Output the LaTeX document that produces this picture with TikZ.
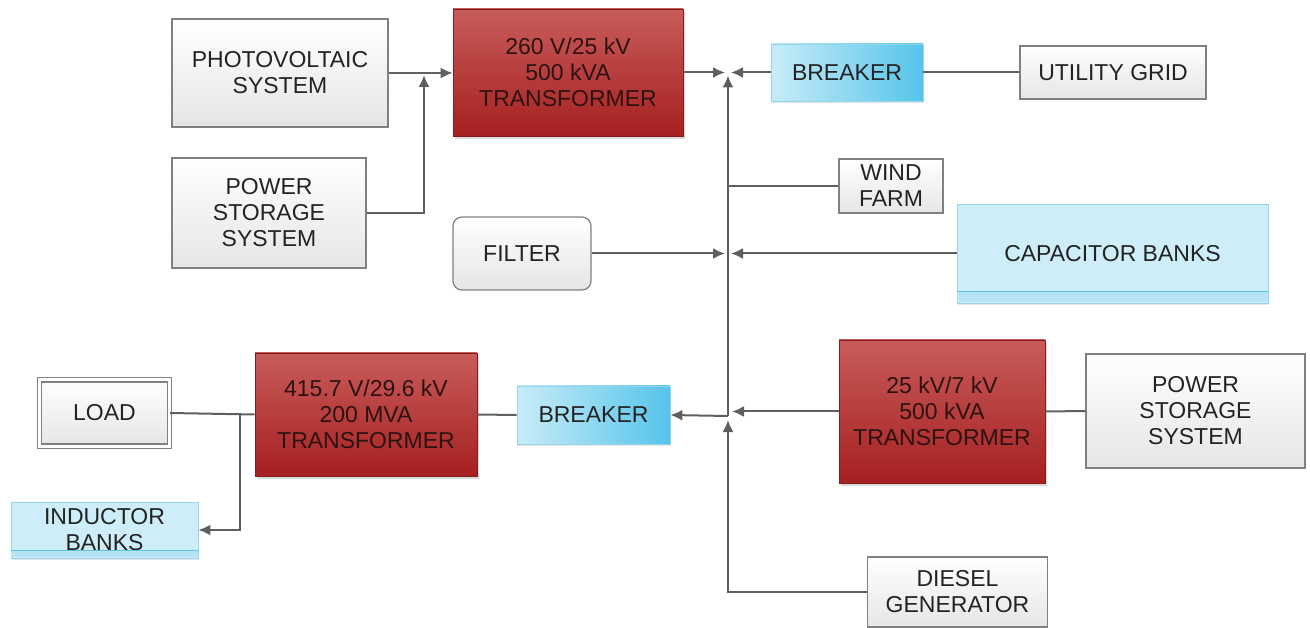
\documentclass[tikz,border=0pt]{standalone}
\usepackage{fontspec}
\setmainfont{Liberation Sans}
\usepackage{tikz}
\usetikzlibrary{shadows, arrows.meta}
\definecolor{boxgray}{RGB}{128,128,128}
\definecolor{linegray}{RGB}{95,95,95}
\definecolor{textgray}{RGB}{35,35,35}
\definecolor{trafotop}{RGB}{200,92,90}
\definecolor{trafobot}{RGB}{165,32,32}
\definecolor{trafoedge}{RGB}{130,30,30}
\definecolor{trafotext}{RGB}{45,18,18}
\definecolor{brkleft}{RGB}{200,236,248}
\definecolor{brkright}{RGB}{85,196,234}
\definecolor{bluelight}{RGB}{205,237,249}
\definecolor{blueedge}{RGB}{150,212,236}
\definecolor{bluestrip}{RGB}{92,195,230}

\begin{document}
\begin{tikzpicture}[x=1pt, y=-1pt, >={Latex[length=12pt,width=11pt]}, font=\fontsize{23}{26}\selectfont,
  graybox/.style={draw=boxgray, line width=1.2pt, top color=white, bottom color=black!10,
    text=textgray, align=center, inner sep=0pt},
  trafo/.style={draw=trafoedge, line width=0.8pt, top color=trafotop, bottom color=trafobot,
    text=trafotext, align=center, inner sep=0pt,
    drop shadow={shadow xshift=2pt, shadow yshift=-3pt, opacity=.3}},
  breaker/.style={draw=blueedge, line width=0.8pt, left color=brkleft, right color=brkright,
    text=textgray, align=center, inner sep=0pt,
    drop shadow={shadow xshift=1pt, shadow yshift=-2pt, opacity=.2}},
  bank/.style={draw=blueedge, line width=0.8pt, fill=bluelight,
    text=textgray, align=center, inner sep=0pt,
    drop shadow={shadow xshift=1pt, shadow yshift=-2pt, opacity=.2}},
  conn/.style={draw=linegray, line width=2pt}]
  % Rahmen
  \useasboundingbox (0,0) rectangle (1310,628);
  % Quellen links oben
  \node[graybox, minimum width=216, minimum height=108] (pv) at (280,73) {PHOTOVOLTAIC\\SYSTEM};
  \node[graybox, minimum width=194, minimum height=110] (pssa) at (269,213) {POWER\\STORAGE\\SYSTEM};
  \node[trafo, minimum width=230, minimum height=127] (trafoa) at (568,72.5) {260 V/25 kV\\500 kVA\\TRANSFORMER};
  \node[graybox, rounded corners=9pt, minimum width=138, minimum height=73] (filter) at (522,253.5) {FILTER};
  % rechte Seite
  \node[breaker, minimum width=152, minimum height=57] (brka) at (847,72.5) {BREAKER};
  \node[graybox, minimum width=186, minimum height=53] (grid) at (1113,72.5) {UTILITY GRID};
  \node[graybox, minimum width=104, minimum height=54] (wind) at (891,186) {WIND\\FARM};
  \node[bank, minimum width=311, minimum height=99] (cap) at (1112.5,253.5) {CAPACITOR BANKS};
  \fill[bluestrip!45] ([yshift=1pt]cap.south west) rectangle ([yshift=11pt]cap.south east);
  \draw[bluestrip, line width=1.5pt] ([yshift=12pt]cap.south west) -- ([yshift=12pt]cap.south east);
  % unten
  \node[graybox, double=white, double distance=3pt, minimum width=130, minimum height=66] (load) at (104.5,413) {LOAD};
  \node[bank, minimum width=187, minimum height=56] (ind) at (104.5,530) {INDUCTOR\\BANKS};
  \fill[bluestrip!45] ([yshift=1pt]ind.south west) rectangle ([yshift=7pt]ind.south east);
  \draw[bluestrip, line width=1.2pt] ([yshift=8pt]ind.south west) -- ([yshift=8pt]ind.south east);
  \node[trafo, minimum width=222, minimum height=123] (trafob) at (366,414.5) {415.7 V/29.6 kV\\200 MVA\\TRANSFORMER};
  \node[breaker, minimum width=153, minimum height=58] (brkb) at (593.5,415) {BREAKER};
  \node[trafo, minimum width=206, minimum height=143] (trafoc) at (942,411.5) {25 kV/7 kV\\500 kVA\\TRANSFORMER};
  \node[graybox, minimum width=219, minimum height=114] (pssb) at (1195.5,411) {POWER\\STORAGE\\SYSTEM};
  \node[graybox, minimum width=180, minimum height=70] (diesel) at (957.5,592) {DIESEL\\GENERATOR};
  % Knoten der Sammelschiene
  \coordinate (ja) at (424,73);
  \coordinate (busa) at (728,72.5);
  \coordinate (busb) at (728,253.5);
  \coordinate (busc) at (728,416);
  \coordinate (jl) at (240,413);
  % Verbindungen
  \draw[conn, ->] (pv.east) -- (pv.east -| trafoa.west);
  \draw[conn, ->, shorten >=2pt] (pssa.east) -| (ja);
  \draw[conn, ->, shorten >=3pt] (trafoa.east) -- (busa);
  \draw[conn, ->, shorten >=3pt] (brka.west) -- (busa);
  \draw[conn] (brka.east) -- (grid.west);
  \draw[conn, ->, shorten >=3pt] (busc) -- (busa);
  \draw[conn, ->, shorten >=4pt] (diesel.west) -| (busc);
  \draw[conn] (wind.west -| busa) -- (wind.west);
  \draw[conn, ->, shorten >=3pt] (filter.east) -- (busb);
  \draw[conn, ->, shorten >=3pt] (cap.west) -- (busb);
  \draw[conn, ->] (busc) -- (brkb.east);
  \draw[conn, ->, shorten >=4pt] (trafoc.west) -- (trafoc.west -| busa);
  \draw[conn] (pssb.west) -- (trafoc.east);
  \draw[conn] (brkb.west) -- (trafob.east);
  \draw[conn] (load.east) -- (trafob.west);
  \draw[conn, ->] (jl) |- (ind.east);
\end{tikzpicture}
\end{document}
